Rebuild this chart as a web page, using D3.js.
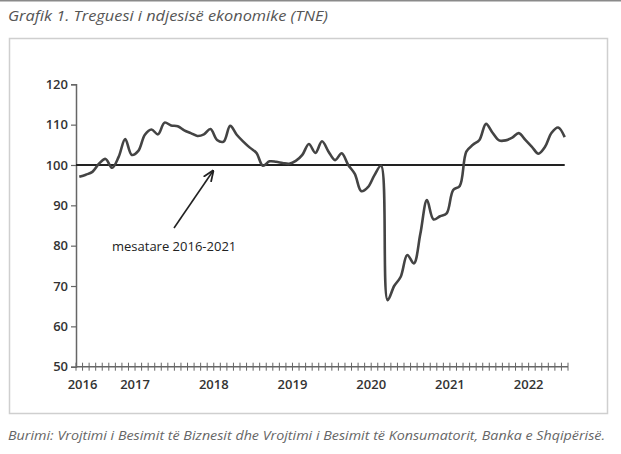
<!DOCTYPE html>
<meta charset="UTF-8">
<style>
  body { margin: 0; background: #fff; }
  .title { font: italic 15px "Open Sans", sans-serif; fill: #555; }
  .source { font: italic 12px "Open Sans", sans-serif; fill: #666; }
  .tick-label { font: 600 13px "Open Sans", sans-serif; fill: #333; }
  .note { font: 13px "Open Sans", sans-serif; fill: #222; }
  .series { fill: none; stroke: #444; stroke-width: 2.6px; stroke-linejoin: round; }
</style>
<body>
<script src="https://d3js.org/d3.v7.min.js"></script>
<script>

// TNE, monthly, May 2016 - Jul 2022
var tneValues = [
  97.1, 97.6, 98.3, 100.3, 101.5, 99.3, 102.0, 106.4, 102.5, 103.5,
  107.5, 108.8, 107.6, 110.5, 109.8, 109.6, 108.6, 107.9, 107.2, 107.6,
  108.9, 106.2, 105.8, 109.7, 107.5, 105.8, 104.3, 103.0, 99.8, 100.9,
  100.8, 100.5, 100.3, 101.0, 102.5, 105.2, 103.0, 105.9, 103.3, 101.2,
  102.9, 100.0, 97.8, 93.5, 94.5, 97.5, 99.8, 66.5, 70.0, 72.3,
  77.7, 75.6, 83.0, 91.3, 86.5, 87.3, 88.0, 93.8, 94.8, 103.3,
  105.0, 106.2, 110.2, 108.0, 106.1, 106.1, 106.8, 107.9, 106.2, 104.5,
  102.8, 104.5, 108.0, 109.3, 106.9
];

// average 2016-2021
var meanValue = [100];

var yTicks = [50, 60, 70, 80, 90, 100, 110, 120];
var yearLabels = ["2016", "2017", "2018", "2019", "2020", "2021", "2022"];
var yearIndex = [0, 8, 20, 32, 44, 56, 68];

var width = 621, height = 454;

var svg = d3.select("body").append("svg")
    .attr("width", width)
    .attr("height", height);

// top rule and frame
svg.append("rect")
    .attr("x", 0).attr("y", 0)
    .attr("width", width).attr("height", 1.5)
    .attr("fill", "#8a8a8a");

svg.append("text")
    .attr("class", "title")
    .attr("x", 8).attr("y", 21)
    .attr("textLength", 320)
    .attr("lengthAdjust", "spacingAndGlyphs")
    .text("Grafik 1. Treguesi i ndjesisë ekonomike (TNE)");

svg.append("rect")
    .attr("x", 9.5).attr("y", 38.5)
    .attr("width", 598).attr("height", 375)
    .attr("fill", "#fff")
    .attr("stroke", "#cfcfcf")
    .attr("stroke-width", 1.5);

svg.append("text")
    .attr("class", "source")
    .attr("x", 8).attr("y", 440)
    .attr("textLength", 597)
    .attr("lengthAdjust", "spacingAndGlyphs")
    .text("Burimi: Vrojtimi i Besimit të Biznesit dhe Vrojtimi i Besimit të Konsumatorit, Banka e Shqipërisë.");

// scales
var x = d3.scaleLinear()
    .domain([-0.5, tneValues.length - 0.5])
    .range([76, 568]);

var y = d3.scaleLinear()
    .domain([50, 120])
    .range([366.7, 84.3]);

// y axis
var yAxis = d3.axisLeft(y).tickValues(yTicks).tickSize(5).tickPadding(3);
var gy = svg.append("g")
    .attr("transform", "translate(" + x.range()[0] + ",0)")
    .call(yAxis);
gy.select(".domain").attr("stroke", "#666").attr("stroke-width", 1.5);
gy.selectAll(".tick line").attr("stroke", "#666").attr("stroke-width", 1.2);
gy.selectAll(".tick text").attr("class", "tick-label").attr("fill", null);

// x axis with month ticks crossing the line
var gx = svg.append("g");
gx.append("line")
    .attr("x1", x.range()[0]).attr("x2", x.range()[1])
    .attr("y1", y(50)).attr("y2", y(50))
    .attr("stroke", "#666").attr("stroke-width", 1.5);

gx.selectAll("line.mtick")
    .data(d3.range(tneValues.length + 1))
    .join("line")
    .attr("class", "mtick")
    .attr("x1", function(d) { return x(d - 0.5); })
    .attr("x2", function(d) { return x(d - 0.5); })
    .attr("y1", y(50) - 4).attr("y2", y(50) + 4)
    .attr("stroke", "#666").attr("stroke-width", 1);

gx.selectAll("text.year")
    .data(yearLabels)
    .join("text")
    .attr("class", "tick-label year")
    .attr("text-anchor", "middle")
    .attr("x", function(d, i) { return x(yearIndex[i] + 0.5); })
    .attr("y", y(50) + 22)
    .text(function(d) { return d; });

// mean line
svg.selectAll("line.mean")
    .data(meanValue)
    .join("line")
    .attr("class", "mean")
    .attr("x1", x.range()[0])
    .attr("x2", x(tneValues.length - 1))
    .attr("y1", function(d) { return y(d); })
    .attr("y2", function(d) { return y(d); })
    .attr("stroke", "#222")
    .attr("stroke-width", 2);

// series
var line = d3.line()
    .x(function(d, i) { return x(i); })
    .y(function(d) { return y(d); })
    .curve(d3.curveCatmullRom.alpha(0.5));

svg.append("path")
    .datum(tneValues)
    .attr("class", "series")
    .attr("d", line);

// annotation arrow
svg.append("defs").append("marker")
    .attr("id", "head")
    .attr("viewBox", "0 0 10 10")
    .attr("refX", 9).attr("refY", 5)
    .attr("markerWidth", 7).attr("markerHeight", 7)
    .attr("orient", "auto")
  .append("path")
    .attr("d", "M0,1 L10,5 L0,9")
    .attr("fill", "none")
    .attr("stroke", "#222")
    .attr("stroke-width", 1.6);

svg.append("line")
    .attr("x1", 174).attr("y1", 228)
    .attr("x2", 213).attr("y2", 171)
    .attr("stroke", "#222")
    .attr("stroke-width", 1.6)
    .attr("marker-end", "url(#head)");

svg.append("text")
    .attr("class", "note")
    .attr("x", 112).attr("y", 251)
    .text("mesatare 2016-2021");

</script>
</body>
